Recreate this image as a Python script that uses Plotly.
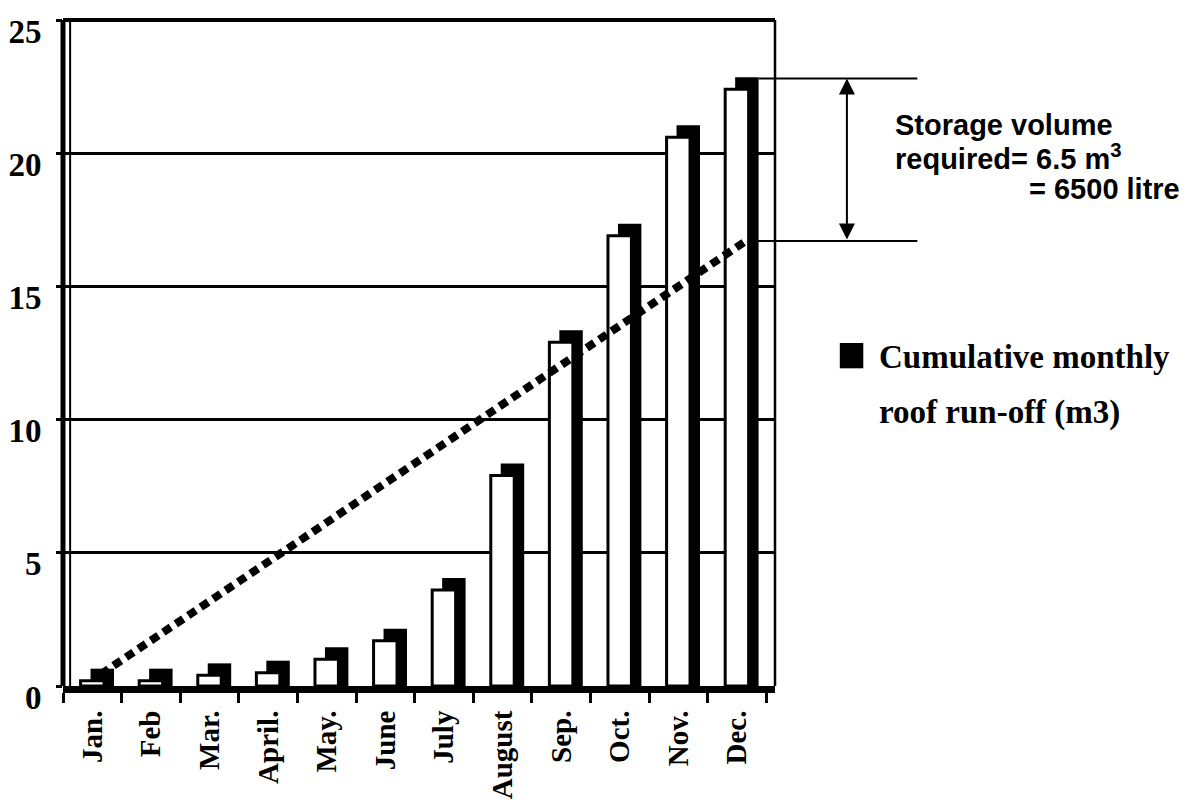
import plotly.graph_objects as go

# ---- data ----
months = ['Jan.', 'Feb', 'Mar.', 'April.', 'May.', 'June', 'July', 'August',
          'Sep.', 'Oct.', 'Nov.', 'Dec.']
runoff = [0.2, 0.2, 0.4, 0.5, 1.0, 1.7, 3.6, 7.9, 12.9, 16.9, 20.6, 22.4]
demand_months = ['Jan.', 'Dec.']
demand_cum = [0.45, 16.7]
storage_top = 22.8
storage_bottom = 16.7
y_ticks = [0, 5, 10, 15, 20, 25]

# ---- style constants ----
DEPTH = 0.45          # 3-D depth of the bars (y units)
SERIF = 'Liberation Serif'
SANS = 'Liberation Sans'

fig = go.Figure()

# back / side of the 3-D bars (black)
fig.add_trace(go.Bar(
    x=months, y=[v + DEPTH for v in runoff], base=0,
    width=0.4, offset=-0.03,
    marker=dict(color='black', line=dict(width=0)),
    showlegend=False, hoverinfo='skip'))

# front face of the bars (white with black outline)
fig.add_trace(go.Bar(
    x=months, y=runoff,
    width=0.4, offset=-0.2,
    marker=dict(color='white', line=dict(color='black', width=3)),
    name='Cumulative monthly roof run-off (m3)', showlegend=False))

# cumulative demand line (dotted), drawn on the depth plane
fig.add_trace(go.Scatter(
    x=demand_months, y=demand_cum, mode='lines', xaxis='x2',
    line=dict(color='black', width=8, dash='9px,6px'),
    showlegend=False, hoverinfo='skip'))

# the page body adds an 8px offset, so the margins are shifted by 8px
fig.update_layout(
    width=1193, height=807, autosize=False,
    margin=dict(l=55, r=426, t=12, b=129, autoexpand=False),
    paper_bgcolor='white', plot_bgcolor='white',
    barmode='overlay',
    xaxis=dict(type='category', categoryorder='array', categoryarray=months,
               range=[-0.5, 11.65], tickson='boundaries', automargin=False,
               ticks='outside', ticklen=10, tickwidth=3, tickcolor='black',
               tickangle=-90, ticklabelstandoff=6, ticklabeloverflow='allow',
               tickfont=dict(family=SERIF, size=29, color='black', weight='bold'),
               showline=True, linewidth=7, linecolor='black', showgrid=False,
               zeroline=False),
    xaxis2=dict(type='category', categoryorder='array', categoryarray=months,
                range=[-0.65, 11.5], overlaying='x', visible=False),
    yaxis=dict(range=[0, 25], tickvals=y_ticks, automargin=False,
               showgrid=True, gridcolor='black', gridwidth=3,
               ticks='outside', ticklen=6, tickwidth=3, tickcolor='black',
               ticklabelshift=11,
               ticklabelstandoff=8, ticklabeloverflow='allow',
               tickfont=dict(family=SERIF, size=33, color='black', weight='bold'),
               zeroline=False, showline=False),
)

shapes = [
    # frame
    dict(type='line', xref='paper', yref='paper', x0=0, x1=0, y0=0, y1=1,
         line=dict(color='black', width=5)),
    dict(type='line', xref='paper', yref='paper', x0=0.01, x1=0.01, y0=0, y1=1,
         line=dict(color='black', width=2)),
    dict(type='line', xref='paper', yref='paper', x0=1, x1=1, y0=0, y1=1,
         line=dict(color='black', width=2.5)),
    dict(type='line', xref='paper', yref='paper', x0=0, x1=1, y0=1, y1=1,
         line=dict(color='black', width=4)),
    # storage reference lines
    dict(type='line', xref='paper', yref='y', x0=0.977, x1=1.2,
         y0=storage_top, y1=storage_top, line=dict(color='black', width=2)),
    dict(type='line', xref='paper', yref='y', x0=0.962, x1=1.2,
         y0=storage_bottom, y1=storage_bottom, line=dict(color='black', width=2)),
    # legend key
    dict(type='rect', xref='paper', yref='paper', x0=1.091, x1=1.124,
         y0=0.477, y1=0.515, fillcolor='black', line=dict(width=0)),
]
fig.update_layout(shapes=shapes)

annotations = [
    # double-headed arrow
    dict(xref='paper', yref='y', x=1.101, y=storage_top,
         axref='pixel', ayref='y', ax=0, ay=storage_bottom,
         showarrow=True, arrowhead=2, arrowside='end+start',
         arrowsize=1.6, arrowwidth=2, arrowcolor='black',
         standoff=0, startstandoff=0, text=''),
    dict(xref='paper', yref='paper', x=1.166, y=0.842, xanchor='left', yanchor='middle',
         text='Storage volume', showarrow=False,
         font=dict(family=SANS, size=29, color='black', weight='bold')),
    dict(xref='paper', yref='paper', x=1.166, y=0.794, xanchor='left', yanchor='middle',
         text='required= 6.5 m<sup>3</sup>', showarrow=False,
         font=dict(family=SANS, size=29, color='black', weight='bold')),
    dict(xref='paper', yref='paper', x=1.572, y=0.746, xanchor='right', yanchor='middle',
         text='= 6500 litre', showarrow=False,
         font=dict(family=SANS, size=29, color='black', weight='bold')),
    # legend text
    dict(xref='paper', yref='paper', x=1.143, y=0.494, xanchor='left', yanchor='middle',
         text='Cumulative monthly', showarrow=False,
         font=dict(family=SERIF, size=33, color='black', weight='bold')),
    dict(xref='paper', yref='paper', x=1.143, y=0.41, xanchor='left', yanchor='middle',
         text='roof run-off (m3)', showarrow=False,
         font=dict(family=SERIF, size=33, color='black', weight='bold')),
]
fig.update_layout(annotations=annotations)

fig.write_html('out.html')
